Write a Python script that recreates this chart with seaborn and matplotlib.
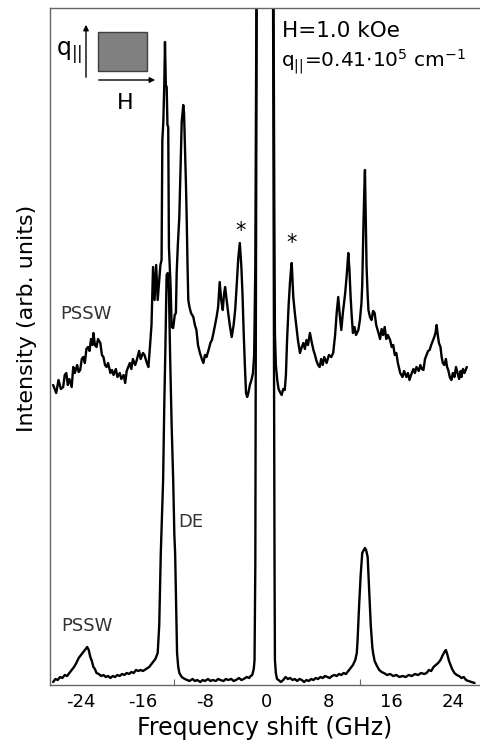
import numpy as np
import pandas as pd
import matplotlib
matplotlib.use("Agg")
import matplotlib.pyplot as plt
import seaborn as sns
from matplotlib.patches import Rectangle, FancyArrowPatch

# ---------------- data ----------------
top_freq = [-27.6, -27.2, -26.9, -26.6, -26.3, -26.1, -25.9, -25.7, -25.5, -25.2, -25.0, -24.8, -24.5,
            -24.3, -24.1, -23.9, -23.7, -23.5, -23.3, -23.1, -22.9, -22.7, -22.5, -22.4, -22.2, -22.0,
            -21.8, -21.5, -21.3, -21.1, -20.9, -20.7, -20.5, -20.2, -20.0, -19.8, -19.5, -19.3, -19.0,
            -18.8, -18.5, -18.3, -18.1, -17.9, -17.7, -17.5, -17.3, -17.0, -16.8, -16.5, -16.3, -16.0,
            -15.8, -15.5, -15.3, -15.1, -14.9, -14.7, -14.5, -14.3, -14.1, -13.9, -13.75, -13.6, -13.5,
            -13.38, -13.25, -13.16, -13.05, -12.94, -12.84, -12.74, -12.65, -12.55, -12.43, -12.3, -12.1,
            -11.9, -11.75, -11.65, -11.5, -11.31, -11.13, -11.0, -10.8, -10.7, -10.58, -10.45, -10.36,
            -10.25, -10.15, -10.0, -9.8, -9.5, -9.3, -9.1, -8.9, -8.65, -8.4, -8.2, -8.0, -7.8, -7.5,
            -7.3, -7.1, -6.9, -6.7, -6.5, -6.3, -6.1, -5.9, -5.7, -5.55, -5.4, -5.2, -5.0, -4.8, -4.55,
            -4.3, -4.1, -3.9, -3.7, -3.5, -3.3, -3.15, -3.0, -2.85, -2.7, -2.55, -2.4, -2.2, -2.0, -1.8,
            -1.65, -1.5, -1.45, -1.35, -1.28,
            0.75, 0.85, 0.95, 1.03, 1.15, 1.33, 1.5, 1.68, 1.9, 2.1, 2.3, 2.45, 2.6, 2.8, 2.97, 3.1, 3.2,
            3.3, 3.4, 3.6, 3.8, 4.0, 4.26, 4.5, 4.7, 4.9, 5.1, 5.3, 5.55, 5.8, 6.0, 6.2, 6.4, 6.6, 6.8,
            7.0, 7.2, 7.4, 7.7, 8.0, 8.3, 8.55, 8.8, 9.0, 9.2, 9.4, 9.6, 9.8, 10.1, 10.3, 10.5, 10.65,
            10.8, 10.95, 11.1, 11.3, 11.5, 11.8, 12.0, 12.2, 12.3, 12.45, 12.55, 12.65, 12.75, 12.86,
            13.0, 13.1, 13.3, 13.5, 13.7, 13.9, 14.1, 14.4, 14.6, 14.8, 15.0, 15.2, 15.4, 15.6, 15.9,
            16.1, 16.3, 16.5, 16.7, 16.9, 17.2, 17.5, 17.7, 18.0, 18.2, 18.4, 18.6, 18.9, 19.1, 19.3,
            19.6, 19.8, 20.0, 20.2, 20.4, 20.6, 20.8, 21.0, 21.2, 21.4, 21.6, 21.75, 21.9, 22.05, 22.2,
            22.4, 22.55, 22.7, 22.9, 23.1, 23.25, 23.4, 23.6, 23.8, 24.0, 24.2, 24.4, 24.6, 24.8, 25.0,
            25.1, 25.3, 25.5, 25.8]
top_int = [300, 292, 305, 296, 298, 310, 312, 300, 306, 298, 318, 312, 320,
           313, 315, 326, 328, 322, 336, 338, 334, 346, 340, 352, 340, 338,
           346, 342, 330, 328, 320, 318, 322, 312, 315, 310, 316, 308, 312,
           306, 310, 302, 314, 318, 322, 316, 326, 320, 325, 334, 326, 332,
           330, 322, 318, 338, 360, 418, 385, 420, 385, 405, 420, 425, 545,
           562, 600, 643, 600, 598, 560, 558, 438, 420, 398, 358, 357,
           370, 372, 412, 440, 468, 522, 563, 580, 572, 538, 500, 468,
           420, 385, 378, 372, 368, 360, 355, 340, 332, 326, 322, 330, 328, 336,
           342, 345, 352, 360, 368, 378, 403, 385, 375, 390, 398, 385, 372, 360, 348,
           360, 375, 400, 427, 442, 418, 390, 352, 320, 292, 288, 292, 300, 305, 312,
           330, 418, 520, 700, 900,
           900, 700, 480, 352, 320, 305, 296, 293, 290, 296, 295, 310, 345, 380, 402, 415, 422,
           405, 388, 372, 358, 345, 332, 338, 342, 336, 345, 340, 352, 342, 335, 330, 324, 320, 318,
           326, 320, 328, 322, 330, 328, 332, 350, 372, 388, 370, 355, 372, 392, 410, 432, 415,
           388, 368, 352, 358, 350, 355, 365, 382, 400, 458, 490, 515, 470, 418,
           390, 375, 368, 365, 374, 372, 360, 352, 346, 356, 350, 358, 346, 350, 345,
           338, 340, 330, 332, 322, 312, 308, 314, 308, 312, 305, 310, 316, 312, 318,
           314, 320, 316, 315, 326, 330, 334, 335, 340, 344, 348, 352, 360, 350, 342,
           338, 328, 322, 320, 326, 318, 315, 308, 305, 312, 308, 318, 312, 306, 314,
           308, 316, 312, 318]

bot_freq = [-27.6, -27.3, -27.0, -26.7, -26.4, -26.1, -25.8, -25.5, -25.2, -24.9, -24.6, -24.3, -24.0,
            -23.7, -23.4, -23.2, -23.0, -22.8, -22.6, -22.4, -22.2, -22.0, -21.7, -21.4, -21.1, -20.8,
            -20.5, -20.2, -19.9, -19.6, -19.3, -19.0, -18.7, -18.4, -18.1, -17.8, -17.5, -17.2, -16.9,
            -16.6, -16.3, -16.0, -15.6, -15.2, -14.8, -14.4, -14.1, -13.9, -13.7, -13.55, -13.4, -13.25,
            -13.1, -12.95, -12.8, -12.65, -12.5, -12.3, -12.1, -11.95, -11.85, -11.7, -11.6, -11.45,
            -11.3, -11.0, -10.6, -10.3, -10.0, -9.6, -9.3, -9.0, -8.6, -8.3, -8.0, -7.6, -7.3, -7.0,
            -6.6, -6.3, -6.0, -5.6, -5.3, -5.0, -4.6, -4.3, -4.0, -3.6, -3.3, -3.0, -2.6, -2.3, -2.1,
            -1.9, -1.7, -1.6, -1.5, -1.45, -1.35, -1.25,
            0.72, 0.82, 0.92, 0.98, 1.03, 1.15, 1.3, 1.5, 1.8, 2.1, 2.4, 2.7, 3.0, 3.3, 3.6, 3.9, 4.2,
            4.5, 4.8, 5.1, 5.4, 5.7, 6.0, 6.3, 6.6, 6.9, 7.2, 7.5, 7.8, 8.1, 8.4, 8.7, 9.0, 9.3, 9.6,
            9.9, 10.2, 10.5, 10.8, 11.1, 11.4, 11.6, 11.7, 11.9, 12.1, 12.3, 12.5, 12.65, 12.8, 13.0,
            13.2, 13.4, 13.6, 13.7, 13.9, 14.2, 14.5, 14.8, 15.1, 15.5, 15.9, 16.3, 16.7, 17.1, 17.5,
            17.9, 18.3, 18.7, 19.1, 19.5, 19.9, 20.3, 20.6, 20.9, 21.2, 21.5, 21.8, 22.1, 22.4, 22.7,
            22.9, 23.1, 23.3, 23.5, 23.7, 23.9, 24.2, 24.5, 24.8, 25.1, 25.4, 25.7, 26.0, 26.4, 26.8]
bot_int = [3, 6, 5, 8, 7, 10, 9, 12, 15, 18, 22, 27, 30,
           33, 36, 38, 35, 28, 24, 18, 16, 12, 11, 9, 10, 8,
           9, 7, 9, 8, 10, 9, 11, 10, 12, 11, 13, 12, 15,
           14, 15, 14, 16, 18, 22, 26, 32, 60, 132, 170, 205, 280,
           340, 410, 412, 395, 330, 260, 205, 150, 132, 70, 32, 18,
           12, 8, 6, 5, 4, 6, 4, 5, 3, 5, 4, 6, 4, 5,
           4, 6, 5, 4, 6, 5, 6, 4, 5, 7, 5, 6, 8, 7, 9,
           10, 16, 25, 120, 300, 600, 900,
           900, 600, 300, 120, 25, 12, 6, 5, 3, 5, 8, 6, 7, 5, 6, 4, 6,
           5, 3, 5, 4, 6, 5, 7, 6, 8, 7, 9, 8, 7, 9, 10, 9, 11, 10,
           12, 11, 14, 17, 20, 25, 32, 45, 80, 110, 132, 135, 137, 135, 128,
           95, 60, 38, 32, 24, 19, 15, 13, 12, 10, 11, 9, 10, 8, 9,
           8, 10, 9, 11, 10, 12, 11, 12, 15, 14, 18, 20, 22, 25, 30,
           33, 35, 30, 24, 20, 16, 12, 10, 9, 7, 8, 5, 4, 3, 2]

tick_values = [-24, -16, -8, 0, 8, 16, 24]
tick_labels = ["-24", "-16", "-8", "0", "8", "16", "24"]
minor_ticks = [-24, -12, 0, 12, 24]

# ---------------- figure ----------------
sns.set_theme(style="white")
plt.rcParams["font.family"] = ["DejaVu Sans"]
plt.rcParams["mathtext.default"] = "regular"
plt.rcParams["text.color"] = "black"
plt.rcParams["axes.labelcolor"] = "black"
plt.rcParams["xtick.labelcolor"] = "black"

W, H = 480, 752
fig = plt.figure(figsize=(W / 100, H / 100), dpi=100)
ax = fig.add_axes([50 / W, 67 / H, 430 / W, 677 / H])

top_df = pd.DataFrame({"freq": top_freq, "intensity": top_int})
bot_df = pd.DataFrame({"freq": bot_freq, "intensity": bot_int})

sns.lineplot(data=top_df, x="freq", y="intensity", ax=ax, color="black",
             lw=1.7, sort=False, estimator=None)
sns.lineplot(data=bot_df, x="freq", y="intensity", ax=ax, color="black",
             lw=1.7, sort=False, estimator=None)

ax.set_xlim(-28.0, 27.5)
ax.set_ylim(0, 677)

ax.set_xticks(tick_values)
ax.set_xticklabels(tick_labels, fontsize=13, color="black")
ax.set_xticks(minor_ticks, minor=True)
ax.tick_params(axis="x", which="major", length=0, pad=6)
ax.tick_params(axis="x", which="minor", length=4, width=0.8, direction="in",
               color="#666666", bottom=True)
ax.set_yticks([])

for s in ["left", "bottom", "top"]:
    ax.spines[s].set_color("#666666")
    ax.spines[s].set_linewidth(1.0)
ax.spines["right"].set_visible(False)

ax.set_xlabel("Frequency shift (GHz)", fontsize=17, labelpad=3, color="black")
ax.set_ylabel("Intensity (arb. units)", fontsize=16, color="black")
ax.yaxis.set_label_coords((37 - 50) / 430, (685 - 318) / 677)


def fx(x):
    return x / W


def fy(y):
    return 1 - y / H


# annotations
fig.text(fx(282), fy(37), "H=1.0 kOe", fontsize=15.5, va="baseline", ha="left")
fig.text(fx(281), fy(67), "q$_{||}$=0.41$\\cdot$10$^5$ cm$^{-1}$", fontsize=14.5,
         va="baseline", ha="left")
fig.text(fx(241), fy(231), "*", fontsize=15, ha="center", va="center")
fig.text(fx(292), fy(243), "*", fontsize=15, ha="center", va="center")
fig.text(fx(60), fy(319), "PSSW", fontsize=13, color="#333333", va="baseline")
fig.text(fx(61), fy(631), "PSSW", fontsize=13, color="#333333", va="baseline")
fig.text(fx(178), fy(527), "DE", fontsize=13, color="#333333", va="baseline")

# inset sketch
fig.add_artist(Rectangle((fx(98), fy(71)), (147 - 98) / W, (71 - 32) / H,
                         transform=fig.transFigure, facecolor="#808080",
                         edgecolor="#404040", lw=1))
fig.add_artist(FancyArrowPatch((fx(86), fy(80)), (fx(86), fy(22)),
                               transform=fig.transFigure, arrowstyle="-|>",
                               mutation_scale=8, lw=1, color="black"))
fig.add_artist(FancyArrowPatch((fx(96), fy(80)), (fx(158), fy(80)),
                               transform=fig.transFigure, arrowstyle="-|>",
                               mutation_scale=8, lw=1, color="black"))
fig.text(fx(56), fy(55), "q$_{||}$", fontsize=17, va="baseline", ha="left")
fig.text(fx(125), fy(109), "H", fontsize=16, va="baseline", ha="center")

fig.savefig("out.png", dpi=100)
